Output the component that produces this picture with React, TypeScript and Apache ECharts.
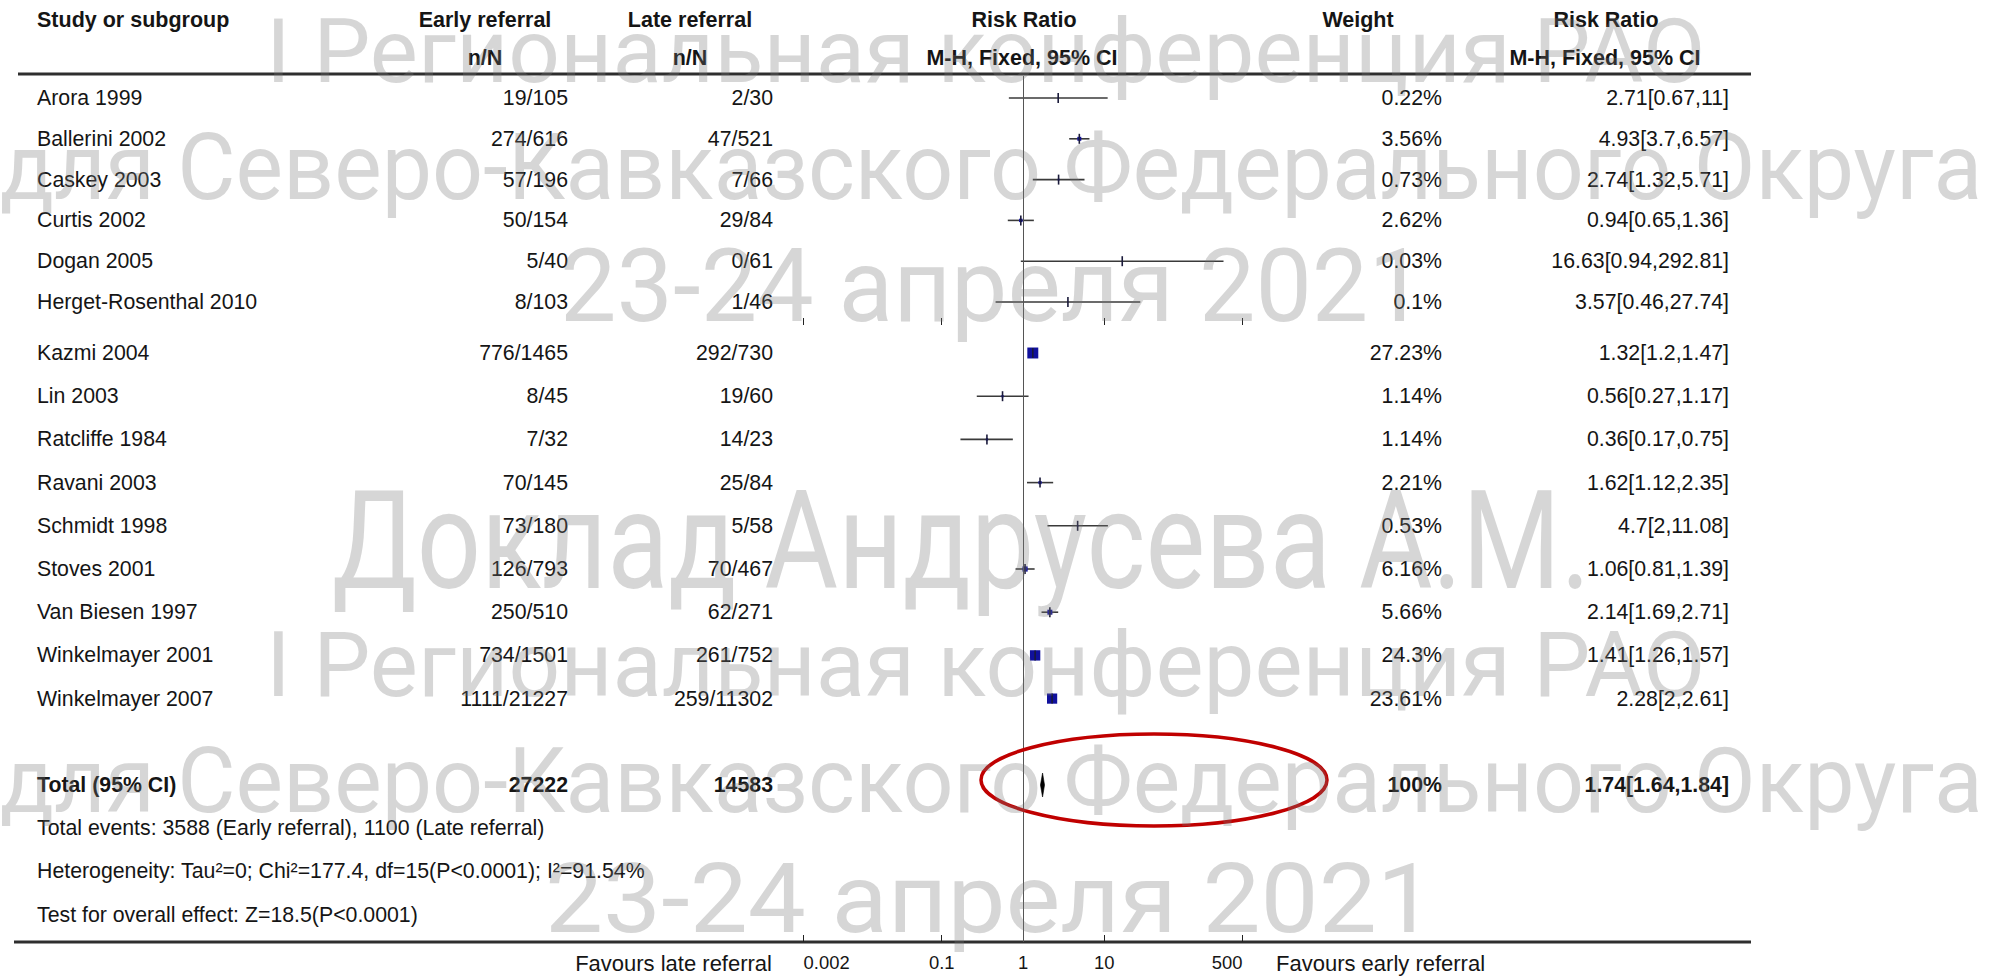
import React, { useEffect, useRef } from "react";
import * as echarts from "echarts";

// ---- Study data ----
const studies = [
  "Arora 1999", "Ballerini 2002", "Caskey 2003", "Curtis 2002", "Dogan 2005", "Herget-Rosenthal 2010",
  "Kazmi 2004", "Lin 2003", "Ratcliffe 1984", "Ravani 2003", "Schmidt 1998", "Stoves 2001",
  "Van Biesen 1997", "Winkelmayer 2001", "Winkelmayer 2007",
];
const earlyEvents = [19, 274, 57, 50, 5, 8, 776, 8, 7, 70, 73, 126, 250, 734, 1111];
const earlyTotal = [105, 616, 196, 154, 40, 103, 1465, 45, 32, 145, 180, 793, 510, 1501, 21227];
const lateEvents = [2, 47, 7, 29, 0, 1, 292, 19, 14, 25, 5, 70, 62, 261, 259];
const lateTotal = [30, 521, 66, 84, 61, 46, 730, 60, 23, 84, 58, 467, 271, 752, 11302];
const weights = [0.22, 3.56, 0.73, 2.62, 0.03, 0.1, 27.23, 1.14, 1.14, 2.21, 0.53, 6.16, 5.66, 24.3, 23.61];
const riskRatio = [2.71, 4.93, 2.74, 0.94, 16.63, 3.57, 1.32, 0.56, 0.36, 1.62, 4.7, 1.06, 2.14, 1.41, 2.28];
const ciLow = [0.67, 3.7, 1.32, 0.65, 0.94, 0.46, 1.2, 0.27, 0.17, 1.12, 2, 0.81, 1.69, 1.26, 2];
const ciHigh = [11, 6.57, 5.71, 1.36, 292.81, 27.74, 1.47, 1.17, 0.75, 2.35, 11.08, 1.39, 2.71, 1.57, 2.61];

// pooled estimate
const totalLabel = "Total (95% CI)";
const totalEarly = 27222;
const totalLate = 14583;
const totalWeight = 100;
const pooledRR = 1.74;
const pooledLow = 1.64;
const pooledHigh = 1.84;

const footnotes = [
  "Total events: 3588 (Early referral), 1100 (Late referral)",
  "Heterogeneity: Tau\u00b2=0; Chi\u00b2=177.4, df=15(P<0.0001); I\u00b2=91.54%",
  "Test for overall effect: Z=18.5(P<0.0001)",
];

// axis ticks (risk ratio, log scale)
const tickValues = [0.002, 0.1, 1, 10, 500];
const tickLabels = ["0.002", "0.1", "1", "10", "500"];

const upperPanelCount = 6; // studies shown above the panel break

const watermarkLines = [
  "I Региональная конференция РАО",
  "для Северо-Кавказского Федерального Округа",
  "23-24 апреля 2021",
  "Доклад Андрусева А.М.",
  "I Региональная конференция РАО",
  "для Северо-Кавказского Федерального Округа",
  "23-24 апреля 2021",
];

// ---- layout ----
const W = 1992;
const H = 979;
const FONT = "Liberation Sans";
const TEXT = "#151515";
const BODY_SIZE = 21.3;
const HEAD_SIZE = 21.5;
const PLOT_LEFT = 803.6;
const PLOT_WIDTH = 438.8;
const HEADER_RULE_Y = 74;
const AXIS_Y = 942;
const PANEL_BREAK_Y = 325;
const GRID_A_TOP = 76;
const ROW_A_FIRST = 98;
const ROW_A_PITCH = 40.8;
const ROW_B_FIRST = 353;
const ROW_B_PITCH = 43.2;

const columns = [
  { x: 37, align: "left" },
  { x: 568, align: "right" },
  { x: 773, align: "right" },
  { x: 1442, align: "right" },
  { x: 1729, align: "right" },
];

// watermark placement: [left, right, baseline, capHeight]
const watermarkBoxes = [
  [266, 1705, 83, 63],
  [0, 1983, 200, 66],
  [560, 1425, 322, 72],
  [332, 1590, 590, 98],
  [266, 1705, 697, 64],
  [0, 1983, 813, 65],
  [545, 1435, 933, 68],
];

const lg = (v: number) => Math.log10(v);

function studyCells(i: number) {
  return [
    studies[i],
    `${earlyEvents[i]}/${earlyTotal[i]}`,
    `${lateEvents[i]}/${lateTotal[i]}`,
    `${weights[i]}%`,
    `${riskRatio[i]}[${ciLow[i]},${ciHigh[i]}]`,
  ];
}

type Row = { row: number; cells: string[]; bold?: boolean };

function textRenderer(rows: Row[]) {
  return (params: any, api: any) => {
    const r = rows[params.dataIndex];
    const y = api.coord([0, api.value(1)])[1];
    const children = r.cells.map((c, k) => ({
      type: "text",
      x: columns[k].x,
      y,
      style: {
        text: c,
        fill: TEXT,
        fontFamily: FONT,
        fontSize: BODY_SIZE,
        fontWeight: r.bold ? "bold" : "normal",
        align: columns[k].align,
        textAlign: columns[k].align,
        verticalAlign: "middle",
        textVerticalAlign: "middle",
      },
    }));
    return { type: "group", children };
  };
}

function studyRenderer(params: any, api: any) {
  const row = api.value(0);
  const [xe, y] = api.coord([api.value(1), row]);
  const xl = api.coord([api.value(2), row])[0];
  const xh = api.coord([api.value(3), row])[0];
  const s = 2.1 * Math.sqrt(api.value(4));
  return {
    type: "group",
    children: [
      { type: "line", shape: { x1: xl, y1: y, x2: xh, y2: y }, style: { stroke: "#3a3a3a", lineWidth: 1.6 } },
      { type: "rect", shape: { x: xe - s / 2, y: y - s / 2, width: s, height: s }, style: { fill: "#10109c" } },
      { type: "line", shape: { x1: xe, y1: y - 5, x2: xe, y2: y + 5 }, style: { stroke: "#1a1a3a", lineWidth: 1.6 } },
    ],
  };
}

function diamondRenderer(params: any, api: any) {
  const row = api.value(0);
  const [xe, y] = api.coord([api.value(1), row]);
  const xl = api.coord([api.value(2), row])[0];
  const xh = api.coord([api.value(3), row])[0];
  return {
    type: "polygon",
    shape: { points: [[xl, y], [xe, y - 12], [xh, y], [xe, y + 12]] },
    style: { fill: "#000", stroke: "#000", lineWidth: 0.6 },
  };
}

function measure(text: string, size: number) {
  const ctx = document.createElement("canvas").getContext("2d")!;
  ctx.font = `${size}px Roboto`;
  return ctx.measureText(text).width;
}

function buildOption() {
  const x0 = lg(tickValues[0]);
  const x1 = lg(tickValues[tickValues.length - 1]);
  const tickLogs = tickValues.map(lg);
  const labelFor = (v: number) => {
    const i = tickLogs.findIndex((t) => Math.abs(t - v) < 1e-6);
    return i >= 0 ? tickLabels[i] : "";
  };

  const upper = studies.map((_, i) => i).filter((i) => i < upperPanelCount);
  const lower = studies.map((_, i) => i).filter((i) => i >= upperPanelCount);

  const rowsA: Row[] = upper.map((i, k) => ({ row: k, cells: studyCells(i) }));
  const totalRow = lower.length + 1;
  const rowsB: Row[] = [
    ...lower.map((i, k) => ({ row: k, cells: studyCells(i) })),
    {
      row: totalRow,
      bold: true,
      cells: [totalLabel, String(totalEarly), String(totalLate), `${totalWeight}%`, `${pooledRR}[${pooledLow},${pooledHigh}]`],
    },
    ...footnotes.map((f, k) => ({ row: totalRow + 1 + k, cells: [f] })),
  ];

  const xAxisBase = {
    type: "value",
    min: x0,
    max: x1,
    axisLine: { show: false, onZero: false },
    splitLine: { show: false },
    axisTick: {
      show: true,
      inside: true,
      length: 7,
      customValues: tickLogs,
      lineStyle: { color: "#222", width: 1 },
    },
  };

  const refLine = {
    silent: true,
    symbol: "none",
    label: { show: false },
    lineStyle: { color: "#555", width: 1, type: "solid" },
    data: [{ xAxis: 0 }],
  };

  const label = (text: string, x: number, y: number, align: string, bold: boolean, size: number) => ({
    type: "text",
    x,
    y,
    style: {
      text,
      fill: TEXT,
      fontFamily: FONT,
      fontSize: size,
      fontWeight: bold ? "bold" : "normal",
      align,
      textAlign: align,
      verticalAlign: "middle",
      textVerticalAlign: "middle",
    },
  });
  const header = (text: string, x: number, y: number, align: string) => label(text, x, y, align, true, HEAD_SIZE);

  const watermark = watermarkLines.map((t, i) => {
    const [left, right, base, cap] = watermarkBoxes[i];
    const size = cap / 0.711;
    const sx = (right - left) / measure(t, size);
    return {
      type: "text",
      x: left,
      y: base - cap / 2,
      scaleX: sx,
      z: 100,
      silent: true,
      style: {
        text: t,
        fill: "rgba(120,120,120,0.3)",
        fontFamily: "Roboto",
        fontSize: size,
        align: "left",
        textAlign: "left",
        verticalAlign: "middle",
        textVerticalAlign: "middle",
      },
    };
  });

  return {
    animation: false,
    backgroundColor: "#fff",
    grid: [
      { left: PLOT_LEFT, top: GRID_A_TOP, width: PLOT_WIDTH, height: PANEL_BREAK_Y - GRID_A_TOP },
      { left: PLOT_LEFT, top: PANEL_BREAK_Y, width: PLOT_WIDTH, height: AXIS_Y - PANEL_BREAK_Y },
    ],
    xAxis: [
      { ...xAxisBase, gridIndex: 0, position: "bottom", axisLabel: { show: false } },
      {
        ...xAxisBase,
        gridIndex: 1,
        position: "bottom",
        axisLabel: {
          show: true,
          customValues: tickLogs,
          formatter: labelFor,
          color: TEXT,
          fontFamily: FONT,
          fontSize: 18.4,
          margin: 11,
          hideOverlap: false,
          alignMinLabel: "left",
          alignMaxLabel: "right",
        },
      },
    ],
    yAxis: [
      {
        type: "value",
        gridIndex: 0,
        inverse: true,
        show: false,
        min: -(ROW_A_FIRST - GRID_A_TOP) / ROW_A_PITCH,
        max: (PANEL_BREAK_Y - ROW_A_FIRST) / ROW_A_PITCH,
      },
      {
        type: "value",
        gridIndex: 1,
        inverse: true,
        show: false,
        min: -(ROW_B_FIRST - PANEL_BREAK_Y) / ROW_B_PITCH,
        max: (AXIS_Y - ROW_B_FIRST) / ROW_B_PITCH,
      },
    ],
    series: [
      { type: "scatter", xAxisIndex: 0, yAxisIndex: 0, data: [], markLine: refLine },
      { type: "scatter", xAxisIndex: 1, yAxisIndex: 1, data: [], markLine: refLine },
      {
        type: "custom",
        xAxisIndex: 0,
        yAxisIndex: 0,
        clip: false,
        encode: { x: [1, 2, 3], y: 0 },
        renderItem: studyRenderer,
        data: upper.map((i, k) => [k, lg(riskRatio[i]), lg(ciLow[i]), lg(ciHigh[i]), weights[i]]),
      },
      {
        type: "custom",
        xAxisIndex: 1,
        yAxisIndex: 1,
        clip: false,
        encode: { x: [1, 2, 3], y: 0 },
        renderItem: studyRenderer,
        data: lower.map((i, k) => [k, lg(riskRatio[i]), lg(ciLow[i]), lg(ciHigh[i]), weights[i]]),
      },
      {
        type: "custom",
        xAxisIndex: 1,
        yAxisIndex: 1,
        clip: false,
        encode: { x: [1, 2, 3], y: 0 },
        renderItem: diamondRenderer,
        data: [[totalRow, lg(pooledRR), lg(pooledLow), lg(pooledHigh)]],
      },
      {
        type: "custom",
        xAxisIndex: 0,
        yAxisIndex: 0,
        clip: false,
        encode: { x: 0, y: 1 },
        renderItem: textRenderer(rowsA),
        data: rowsA.map((r) => [0, r.row]),
      },
      {
        type: "custom",
        xAxisIndex: 1,
        yAxisIndex: 1,
        clip: false,
        encode: { x: 0, y: 1 },
        renderItem: textRenderer(rowsB),
        data: rowsB.map((r) => [0, r.row]),
      },
    ],
    graphic: [
      header("Study or subgroup", 37, 20, "left"),
      header("Early referral", 485, 20, "center"),
      header("n/N", 485, 58, "center"),
      header("Late referral", 690, 20, "center"),
      header("n/N", 690, 58, "center"),
      header("Risk Ratio", 1024, 20, "center"),
      header("M-H, Fixed, 95% CI", 1022, 58, "center"),
      header("Weight", 1358, 20, "center"),
      header("Risk Ratio", 1606, 20, "center"),
      header("M-H, Fixed, 95% CI", 1605, 58, "center"),
      {
        type: "line",
        shape: { x1: 18, y1: HEADER_RULE_Y, x2: 1751, y2: HEADER_RULE_Y },
        style: { stroke: "#2e2e2e", lineWidth: 3 },
      },
      {
        type: "line",
        shape: { x1: 14, y1: AXIS_Y, x2: 1751, y2: AXIS_Y },
        style: { stroke: "#2e2e2e", lineWidth: 3 },
      },
      label("Favours late referral", 772, 963, "right", false, 22),
      label("Favours early referral", 1276, 963, "left", false, 22),
      {
        type: "ellipse",
        shape: { cx: 1154, cy: 780, rx: 173, ry: 46 },
        style: { fill: "none", stroke: "#c00000", lineWidth: 3.5 },
        z: 90,
      },
      ...watermark,
    ],
  };
}

export default function App() {
  const ref = useRef<HTMLDivElement>(null);
  useEffect(() => {
    const chart = echarts.init(ref.current!, null, { renderer: "svg" });
    chart.setOption(buildOption() as any);
    return () => chart.dispose();
  }, []);
  return (
    <div
      ref={ref}
      style={{ position: "absolute", left: 0, top: 0, width: W, height: H, background: "#fff" }}
    />
  );
}
